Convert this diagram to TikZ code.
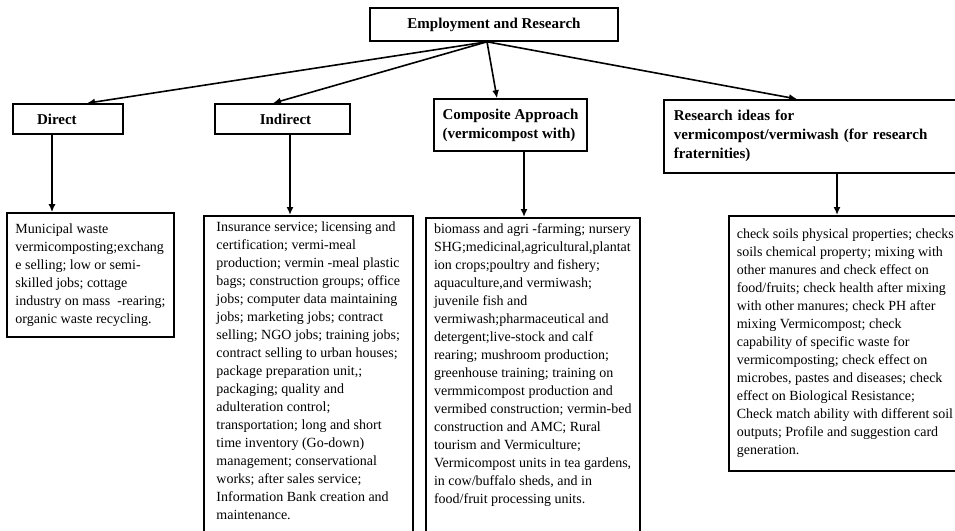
\documentclass[tikz,border=0pt]{standalone}
\usepackage{fontspec}
\setmainfont{Liberation Serif}
\usetikzlibrary{arrows.meta}

\begin{document}
\begin{tikzpicture}[x=1pt, y=-1pt,
	box/.style={draw, line width=1.6pt, inner sep=0pt, font=\fontsize{15}{19}\selectfont\bfseries},
	txt/.style={draw, line width=1.6pt, align=left, inner xsep=8pt, inner ysep=6pt, font=\fontsize{14}{18}\selectfont},
	arr/.style={line width=1.6pt, -{Latex[length=8pt,width=7pt]}}]
			\path[use as bounding box] (0,0) rectangle (955,530);
			\clip (0,0) rectangle (955,530);

				% 見出しの箱
				\node[box, minimum width=248pt, minimum height=33pt] (E) at (494,24.5) {Employment and Research};
				\node[box, minimum width=110pt, minimum height=30pt, text width=62pt, inner xsep=24pt, align=left] (D) at (68,119) {Direct};
				\node[box, minimum width=135pt, minimum height=30pt, xshift=0pt] (I) at (282.5,119) {\hspace*{6pt}Indirect};
				\node[box, minimum width=153pt, minimum height=52pt, align=left] (C) at (510.5,125) {Composite Approach\\(vermicompost with)};
				\node[box, anchor=north west, minimum height=73pt, text width=290pt, inner xsep=10pt, align=left] (R) at (663,99) {Research ideas for\\vermicompost/vermiwash (for research\\fraternities)};

				% 中身の箱
				\node[txt, minimum width=167pt, minimum height=124pt] (Dt) at (90.5,275) {Municipal waste\\vermicomposting;exchang\\e selling; low or semi-\\skilled jobs; cottage\\industry on mass~~-rearing;\\organic waste recycling.};
				\node[txt, anchor=north west, minimum width=209pt] (It) at (203,215) {Insurance service; licensing and\\certification; vermi-meal\\production; vermin -meal plastic\\bags; construction groups; office\\jobs; computer data maintaining\\jobs; marketing jobs; contract\\selling; NGO jobs; training jobs;\\contract selling to urban houses;\\package preparation unit,;\\packaging; quality and\\adulteration control;\\transportation; long and short\\time inventory (Go-down)\\management; conservational\\works; after sales service;\\Information Bank creation and\\maintenance.\\ \strut};
				\node[txt, anchor=north west, minimum width=214pt] (Ct) at (425,217) {biomass and agri -farming; nursery\\SHG;medicinal,agricultural,plantat\\ion crops;poultry and fishery;\\aquaculture,and vermiwash;\\juvenile fish and\\vermiwash;pharmaceutical and\\detergent;live-stock and calf\\rearing; mushroom production;\\greenhouse training; training on\\vermmicompost production and\\vermibed construction; vermin-bed\\construction and AMC; Rural\\tourism and Vermiculture;\\Vermicompost units in tea gardens,\\in cow/buffalo sheds, and in\\food/fruit processing units.\\ \strut};
				\node[txt, anchor=north west, minimum width=230pt, minimum height=255pt] (Rt) at (728,215) {check soils physical properties; checks\\soils chemical property; mixing with\\other manures and check effect on\\food/fruits; check health after mixing\\with other manures; check PH after\\mixing Vermicompost; check\\capability of specific waste for\\vermicomposting; check effect on\\microbes, pastes and diseases; check\\effect on Biological Resistance;\\Check match ability with different soil\\outputs; Profile and suggestion card\\generation.};

				% 矢印を引く
				\draw[arr] ([xshift=-7pt]E.south) -- ([xshift=19pt]D.north);
				\draw[arr] ([xshift=-7pt]E.south) -- ([xshift=-9.5pt]I.north);
				\draw[arr] ([xshift=-7pt]E.south) -- ([xshift=-13.5pt]C.north);
				\draw[arr] ([xshift=-7pt]E.south) -- ([xshift=134pt]R.north west);

				\draw[arr] ([xshift=-16pt]D.south) -- ([xshift=-16pt]D.south |- Dt.north);
				\draw[arr] ([xshift=7.5pt]I.south) -- ([xshift=7.5pt]I.south |- It.north);
				\draw[arr] ([xshift=13.5pt]C.south) -- ([xshift=13.5pt]C.south |- Ct.north);
				\draw[arr] ([xshift=174pt]R.south west) -- ([xshift=174pt]R.south west |- Rt.north);

			\end{tikzpicture}
\end{document}
